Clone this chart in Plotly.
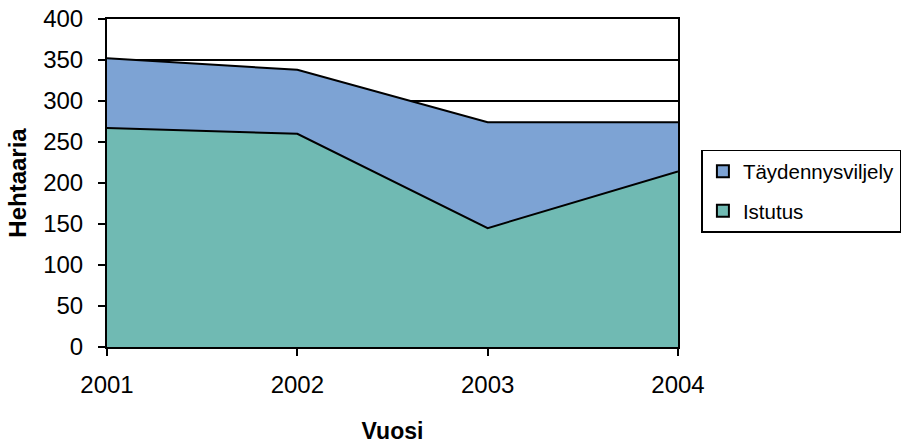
import plotly.graph_objects as go

years = [2001, 2002, 2003, 2004]
istutus = [267, 260, 145, 214]
taydennys = [85, 78, 129, 60]

c_ist = "#70BAB3"
c_tay = "#7DA3D4"
font = "Liberation Sans, Arial, sans-serif"

fig = go.Figure()
fig.add_trace(go.Scatter(x=years, y=istutus, stackgroup="s", mode="lines",
                         line=dict(color="black", width=2), fillcolor=c_ist,
                         name="Istutus", showlegend=False))
fig.add_trace(go.Scatter(x=years, y=taydennys, stackgroup="s", mode="lines",
                         line=dict(color="black", width=2), fillcolor=c_tay,
                         name="Täydennysviljely", showlegend=False))
# legend entries
fig.add_trace(go.Scatter(x=[None], y=[None], mode="markers", name="Täydennysviljely",
                         legendgroup="a",
                         marker=dict(symbol="square", size=13, color=c_tay,
                                     line=dict(color="black", width=1.5))))
fig.add_trace(go.Scatter(x=[None], y=[None], mode="markers", name="Istutus",
                         legendgroup="b",
                         marker=dict(symbol="square", size=13, color=c_ist,
                                     line=dict(color="black", width=1.5))))

fig.update_layout(
    width=902, height=444,
    margin=dict(l=107, r=224, t=19, b=97, autoexpand=False),
    plot_bgcolor="white", paper_bgcolor="white",
    font=dict(family=font, size=24, color="black"),
    showlegend=True,
    legend=dict(x=1.041, y=0.601, xanchor="left", yanchor="top", traceorder="grouped",
                bordercolor="black", borderwidth=1.5, font=dict(size=20.5),
                itemsizing="constant", tracegroupgap=10, itemwidth=30),
    xaxis=dict(range=[2001, 2004], tickvals=years, ticktext=[str(y) for y in years],
               showline=True, linecolor="black", linewidth=2, mirror=True,
               ticks="outside", ticklen=7, tickcolor="black", tickwidth=2,
               showgrid=False, zeroline=False, automargin=False,
               ticklabelstandoff=8,
               title=dict(text="<b>Vuosi</b>", standoff=31, font=dict(size=23))),
    yaxis=dict(range=[0, 400], dtick=50,
               showline=True, linecolor="black", linewidth=2, mirror=True,
               ticks="outside", ticklen=7, tickcolor="black", tickwidth=2,
               showgrid=True, gridcolor="black", gridwidth=1.5, zeroline=False,
               automargin=False, ticklabelstandoff=10,
               title=dict(text="<b>Hehtaaria</b>", standoff=10, font=dict(size=24))),
)

fig.write_html("out.html", config={"displayModeBar": False},
               post_script="document.body.style.margin='0';document.body.style.overflow='hidden';")
